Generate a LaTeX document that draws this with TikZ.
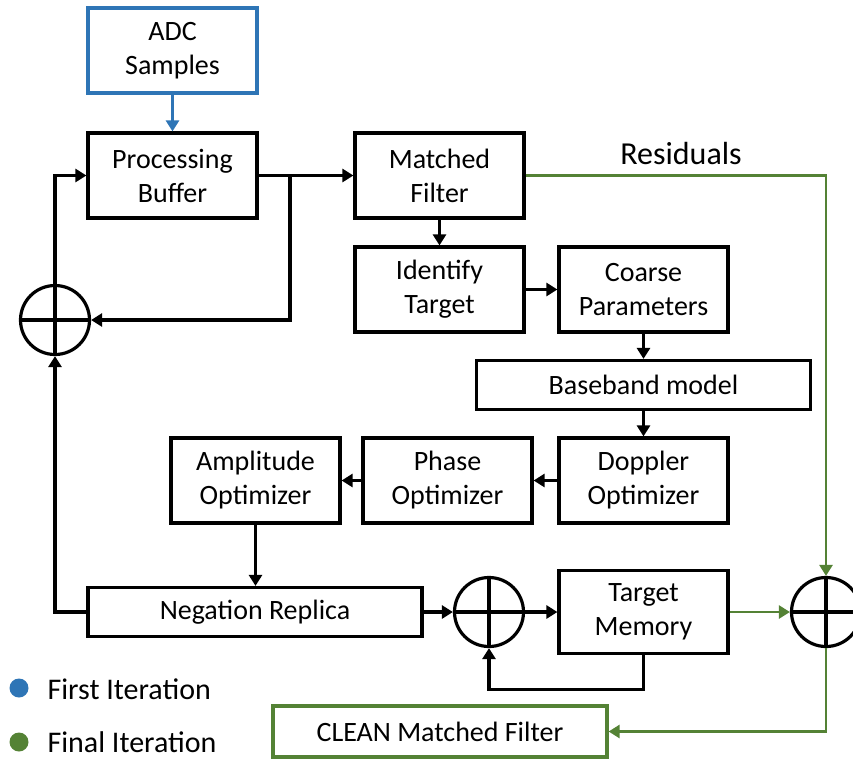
\documentclass[tikz,border=0pt]{standalone}
\usepackage{fontspec}
\setmainfont{Carlito}
\usetikzlibrary{arrows.meta}

\definecolor{iterblue}{RGB}{46,117,182}
\definecolor{itergreen}{RGB}{84,130,53}

\tikzset{
	block/.style={draw, line width=3.2pt, minimum width=169pt, minimum height=85pt, inner sep=0pt, align=center, font=\fontsize{28}{34}\selectfont},
	wide/.style={block, minimum width=334pt, minimum height=49pt},
	sum/.style={draw, circle, line width=3.2pt, minimum size=69pt, inner sep=0pt},
	flow/.style={line width=3.2pt, -{Triangle[length=11pt,width=13pt]}},
	greenflow/.style={flow, line width=2.6pt, draw=itergreen, -{Triangle[length=11pt,width=13pt,fill=itergreen]}}
}

\begin{document}
\begin{tikzpicture}[x=1pt, y=-1pt]
\useasboundingbox (0,0) rectangle (853,758);

% the blocks
\node[block, draw=iterblue] (adc) at (172.5, 50.5) {ADC\\Samples};
\node[block] (buf) at (172.5, 175.5) {Processing\\Buffer};
\node[block] (mf) at (439.5, 175.5) {Matched\\Filter};
\node[block] (idt) at (439.5, 289.5) {Identify\\Target};
\node[block] (coarse) at (643.5, 289.5) {Coarse\\Parameters};
\node[wide] (base) at (643.5, 385) {Baseband model};
\node[block] (dop) at (643.5, 480.5) {Doppler\\Optimizer};
\node[block] (phase) at (447.5, 480.5) {Phase\\Optimizer};
\node[block] (amp) at (255.5, 480.5) {Amplitude\\Optimizer};
\node[wide] (neg) at (255, 612) {Negation Replica};
\node[block, minimum height=83pt] (tm) at (643.5, 612) {Target\\Memory};
\node[wide, draw=itergreen, minimum height=51pt] (clean) at (440, 731.5) {CLEAN Matched Filter};

% summing points
\node[sum] (sumL) at (55, 320) {};
\node[sum] (sumM) at (489, 612) {};
\node[sum] (sumR) at (826, 612) {};
\foreach \s in {sumL, sumM, sumR}
{
	\draw[line width=3.2pt] (\s.north) -- (\s.south);
	\draw[line width=3.2pt] (\s.west) -- (\s.east);
}

% first pass
\draw[flow, draw=iterblue, -{Triangle[length=11pt,width=13pt,fill=iterblue]}] (adc) -- (buf);
\draw[flow] (buf) -- (mf);
\coordinate (split) at (290, 175.5);
\draw[flow] (split) |- (sumL.east);
\draw[flow] (sumL.north) |- (buf.west);
\draw[flow] (neg.west) -| (sumL.south);
\draw[flow] (mf) -- (idt);
\draw[flow] (idt) -- (coarse);
\draw[flow] (coarse) -- (base);
\draw[flow] (base) -- (dop);
\draw[flow] (dop) -- (phase);
\draw[flow] (phase) -- (amp);
\draw[flow] (amp.south) -- (amp.south |- neg.north);
\draw[flow] (neg) -- (sumM);
\draw[flow] (sumM) -- (tm);
\draw[flow] (tm.south) -- ++(0,34) -| (sumM.south);

% final pass
\draw[greenflow] (mf.east) -| (sumR.north);
\node[anchor=base, font=\fontsize{32}{38}\selectfont] (res) at (681, 164) {Residuals};
\draw[greenflow] (tm) -- (sumR);
\draw[greenflow] (sumR.south) |- (clean.east);

% legend
\fill[iterblue] (19, 688) circle(9.5pt);
\node[anchor=base west, font=\fontsize{30}{36}\selectfont] (first) at (44, 699) {First Iteration};
\fill[itergreen] (19, 742) circle(9.5pt);
\node[anchor=base west, font=\fontsize{30}{36}\selectfont] (final) at (44, 752) {Final Iteration};

\end{tikzpicture}
\end{document}
